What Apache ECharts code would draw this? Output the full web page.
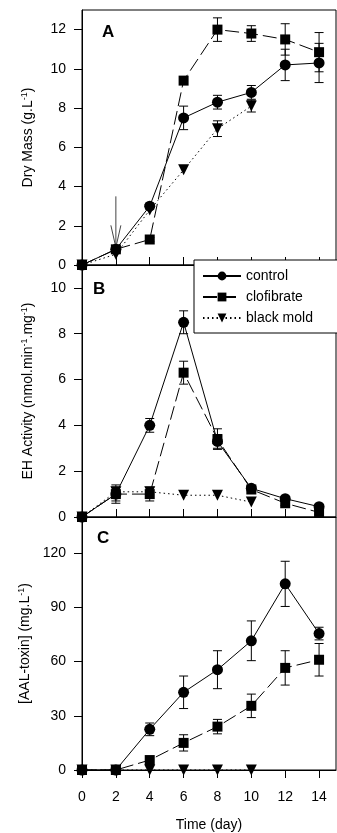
<!DOCTYPE html>
<html><head><meta charset="utf-8">
<script src="https://cdn.jsdelivr.net/npm/echarts@6/dist/echarts.min.js"></script>
<style>html,body{margin:0;padding:0;background:#fff}#c{width:337px;height:833px}</style>
</head><body><div id="c"></div>
<script>
var days = [0, 2, 4, 6, 8, 10, 12, 14];
var xTicks = [0, 2, 4, 6, 8, 10, 12, 14];

// Panel A: dry mass (g/L)
var massControl      = [0, 0.8, 3.0, 7.5, 8.3, 8.8, 10.2, 10.3];
var massControlErr   = [0, 0.15, 0.15, 0.6, 0.35, 0.35, 0.8, 1.0];
var massClofibrate   = [0, 0.8, 1.3, 9.4, 12.0, 11.8, 11.5, 10.85];
var massClofibrateErr= [0, 0.1, 0.1, 0, 0.6, 0.4, 0.8, 1.0];
var massBlackMold    = [0, 0.55, 2.8, 4.85, 6.95, 8.1, null, null];
var massBlackMoldErr = [0, 0, 0, 0, 0.4, 0.3, 0, 0];
var yTicksA = [0, 2, 4, 6, 8, 10, 12];

// Panel B: EH activity
var ehControl        = [0, 1.0, 4.0, 8.5, 3.3, 1.25, 0.8, 0.45];
var ehControlErr     = [0, 0.3, 0.3, 0.5, 0.3, 0.1, 0.1, 0.1];
var ehClofibrate     = [0, 1.0, 1.0, 6.3, 3.4, 1.2, 0.6, 0.2];
var ehClofibrateErr  = [0, 0.4, 0.3, 0.5, 0.45, 0.1, 0.1, 0.1];
var ehBlackMold      = [0, 1.1, 1.1, 0.95, 0.95, 0.65, null, null];
var ehBlackMoldErr   = [0, 0, 0, 0, 0, 0, 0, 0];
var yTicksB = [0, 2, 4, 6, 8, 10];

// Panel C: AAL-toxin (mg/L)
var toxControl       = [0, 0, 22.5, 43, 55.5, 71.5, 103, 75.5];
var toxControlErr    = [0, 0, 3.5, 9, 10.5, 11, 12.5, 3.5];
var toxClofibrate    = [0, 0, 5.5, 15, 24, 35.5, 56.5, 61];
var toxClofibrateErr = [0, 0, 0, 4.5, 4, 6.5, 9.5, 9];
var toxBlackMold     = [0, 0, 0, 0, 0, 0, null, null];
var toxBlackMoldErr  = [0, 0, 0, 0, 0, 0, 0, 0];
var yTicksC = [0, 30, 60, 90, 120];

var seriesNames = ['control', 'clofibrate', 'black mold'];
var panelLetters = ['A', 'B', 'C'];
var arrowMark = [2, 3.5, 0.9]; // day, from value, to value (panel A)

var FONT = '"Liberation Sans", Arial, Helvetica, sans-serif';

function pts(vals) { return days.map(function (d, i) { return vals[i] == null ? [d, null] : [d, vals[i]]; }); }
function errPts(vals, errs) {
  var out = [];
  days.forEach(function (d, i) { if (vals[i] != null && errs[i] > 0) out.push([d, vals[i] - errs[i], vals[i] + errs[i]]); });
  return out;
}
function errRender(params, api) {
  var x = api.value(0), lo = api.value(1), hi = api.value(2);
  var a = api.coord([x, hi]), b = api.coord([x, lo]);
  var w = 4.5, st = { stroke: '#000', lineWidth: 1 };
  return { type: 'group', children: [
    { type: 'line', shape: { x1: a[0], y1: a[1], x2: b[0], y2: b[1] }, style: st },
    { type: 'line', shape: { x1: a[0] - w, y1: a[1], x2: a[0] + w, y2: a[1] }, style: st },
    { type: 'line', shape: { x1: b[0] - w, y1: b[1], x2: b[0] + w, y2: b[1] }, style: st }
  ]};
}
var styles = [
  { symbol: 'circle', symbolSize: 11, z: 4, lineStyle: { type: 'solid', width: 1 } },
  { symbol: 'rect', symbolSize: 10, z: 4, lineStyle: { type: [14, 5], width: 1 } },
  { symbol: 'triangle', symbolSize: 11, symbolRotate: 180, z: 3, lineStyle: { type: [1.5, 3], width: 1 } }
];
var panels = [
  { vals: [massControl, massClofibrate, massBlackMold], errs: [massControlErr, massClofibrateErr, massBlackMoldErr] },
  { vals: [ehControl, ehClofibrate, ehBlackMold], errs: [ehControlErr, ehClofibrateErr, ehBlackMoldErr] },
  { vals: [toxControl, toxClofibrate, toxBlackMold], errs: [toxControlErr, toxClofibrateErr, toxBlackMoldErr] }
];

var series = [];
panels.forEach(function (p, g) {
  p.vals.forEach(function (v, k) {
    series.push({ type: 'custom', xAxisIndex: g, yAxisIndex: g, z: 1, silent: true,
      renderItem: errRender, data: errPts(v, p.errs[k]) });
  });
  [2, 0, 1].forEach(function (k) {
    var v = p.vals[k];
    series.push(Object.assign({ type: 'line', name: seriesNames[k], xAxisIndex: g, yAxisIndex: g,
      data: pts(v), connectNulls: false, color: '#000',
      itemStyle: { color: '#000' }, animation: false }, JSON.parse(JSON.stringify(styles[k]))));
  });
});
series.push({ type: 'custom', xAxisIndex: 0, yAxisIndex: 0, z: 2, silent: true, data: [arrowMark],
  renderItem: function (params, api) {
    var a = api.coord([api.value(0), api.value(1)]), b = api.coord([api.value(0), api.value(2)]);
    var st = { stroke: '#444', lineWidth: 1 };
    return { type: 'group', children: [
      { type: 'line', shape: { x1: a[0], y1: a[1], x2: b[0], y2: b[1] }, style: st },
      { type: 'polyline', shape: { points: [[b[0] - 5, b[1] - 22], [b[0], b[1]], [b[0] + 5, b[1] - 22]] }, style: { stroke: '#444', fill: 'none', lineWidth: 1 } }
    ]};
  } });

var grids = [
  { left: 82, right: 1, top: 10, height: 255 },
  { left: 82, right: 1, top: 265, height: 252 },
  { left: 82, right: 1, top: 517, height: 254 }
];
grids.forEach(function (g) { g.show = true; g.borderColor = '#000'; g.borderWidth = 1; g.backgroundColor = 'transparent'; });

function supName(a, b, c) {
  return '{n|' + a + '}{s|-1}{n|' + b + '}' + (c ? '{s|-1}{n|' + c + '}' : '');
}
var yNames = [supName('Dry Mass (g.L', ')'), supName('EH Activity (nmol.min', '.mg', ')'), supName('[AAL-toxin] (mg.L', ')')];
var yMax = [13, 11, 140];
var yTicks = [yTicksA, yTicksB, yTicksC];

var xAxes = [0, 1, 2].map(function (g) {
  return { type: 'value', gridIndex: g, min: 0, max: 15,
    axisLine: { show: true, lineStyle: { color: '#000' } },
    axisTick: { show: true, inside: g < 2, length: 8, customValues: xTicks, lineStyle: { color: '#000' } },
    axisLabel: { show: g === 2, customValues: xTicks, margin: 20, color: '#000', fontSize: 14, fontFamily: FONT },
    splitLine: { show: false },
    name: g === 2 ? 'Time (day)' : '', nameLocation: 'middle', nameGap: 48,
    nameTextStyle: { color: '#000', fontSize: 14, fontFamily: FONT } };
});
var yAxes = [0, 1, 2].map(function (g) {
  return { type: 'value', gridIndex: g, min: 0, max: yMax[g],
    axisLine: { show: true, lineStyle: { color: '#000' } },
    axisTick: { show: true, inside: false, length: 8, customValues: yTicks[g], lineStyle: { color: '#000' } },
    axisLabel: { customValues: yTicks[g], margin: 16, color: '#000', fontSize: 14, fontFamily: FONT },
    splitLine: { show: false },
    name: yNames[g], nameLocation: 'middle', nameGap: 46,
    nameTextStyle: { color: '#000', fontFamily: FONT,
      rich: { n: { fontSize: 14, fontFamily: FONT, color: '#000', lineHeight: 16 },
              s: { fontSize: 9, fontFamily: FONT, color: '#000', verticalAlign: 'top', lineHeight: 16 } } } };
});

var letterPos = [[102, 32], [93, 289], [97, 538]];
var graphics = panelLetters.map(function (L, i) {
  return { type: 'text', x: letterPos[i][0], y: letterPos[i][1], z: 10,
    style: { text: L, fontSize: 17, fontWeight: 'bold', fontFamily: FONT, fill: '#000', verticalAlign: 'middle' } };
});

var chart = echarts.init(document.getElementById('c'), null, { renderer: 'canvas' });
chart.setOption({
  animation: false,
  backgroundColor: '#fff',
  grid: grids,
  xAxis: xAxes,
  yAxis: yAxes,
  legend: { data: seriesNames, orient: 'vertical', left: 194, top: 260, z: 20,
    padding: [9, 32, 8, 8], itemGap: 7, itemWidth: 38, itemHeight: 11,
    backgroundColor: '#fff', borderColor: '#000', borderWidth: 1,
    textStyle: { color: '#000', fontSize: 14, fontFamily: FONT } },
  graphic: graphics,
  series: series
});
</script></body></html>
